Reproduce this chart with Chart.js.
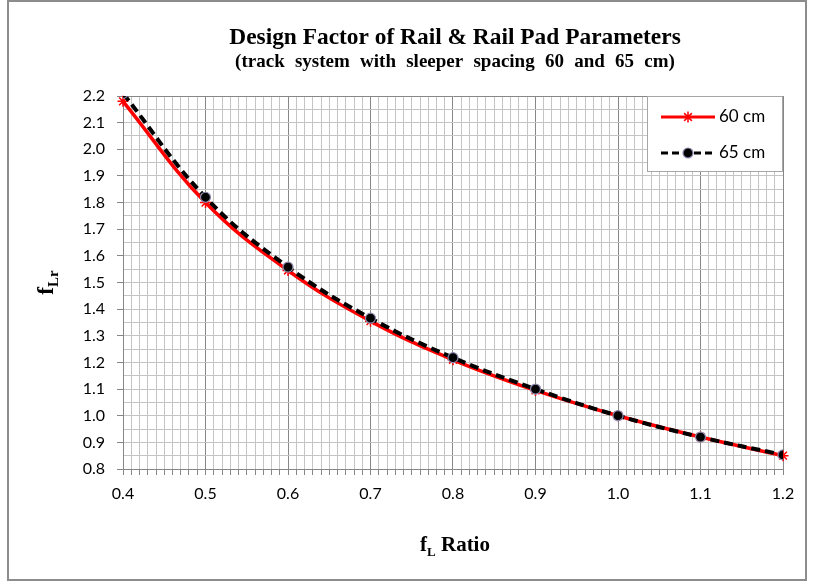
<!DOCTYPE html>
<html>
<head>
<meta charset="utf-8">
<title>Design Factor of Rail & Rail Pad Parameters</title>
<script src="https://cdn.jsdelivr.net/npm/chart.js@4/dist/chart.umd.min.js"></script>
<style>
    html, body { margin: 0; padding: 0; background: #ffffff; }
    #wrap { width: 816px; height: 583px; }
</style>
</head>
<body>
<div id="wrap"><canvas id="designFactorChart" width="816" height="583"></canvas></div>
<script>
// f_L ratio (x axis)
const fLRatio = [0.4, 0.5, 0.6, 0.7, 0.8, 0.9, 1.0, 1.1, 1.2];
// design factor f_Lr, sleeper spacing 60 cm
const spacing60 = [2.18, 1.80, 1.545, 1.355, 1.21, 1.095, 1.00, 0.92, 0.85];
// design factor f_Lr, sleeper spacing 65 cm
const spacing65 = [2.21, 1.82, 1.558, 1.366, 1.218, 1.10, 1.00, 0.92, 0.853];
const seriesNames = ['60 cm', '65 cm'];
const titleLines = [
    'Design Factor of Rail & Rail Pad Parameters',
    '(track system with sleeper spacing 60 and 65 cm)'
];
const xRange = [0.4, 1.2];
const yRange = [0.8, 2.2];

const TICK_FONT = 'Lato';
const SERIF = '"Liberation Serif", "DejaVu Serif", serif';
const MAJOR_GRID = '#878787';
const MINOR_GRID = '#c4c4c4';

// true for multiples of 0.1
function isMajor(v) {
    return Math.abs(v * 10 - Math.round(v * 10)) < 1e-6;
}

// draws text pieces one after another, each with its own font and baseline shift
function drawRuns(ctx, runs, cx, y) {
    let total = 0;
    runs.forEach(r => { ctx.font = r.font; total += ctx.measureText(r.text).width; });
    let x = cx - total / 2;
    ctx.textAlign = 'left';
    ctx.textBaseline = 'alphabetic';
    runs.forEach(r => {
        ctx.font = r.font;
        ctx.fillText(r.text, x, y + (r.dy || 0));
        x += ctx.measureText(r.text).width;
    });
}

function drawStar(ctx, x, y, r) {
    ctx.beginPath();
    ctx.moveTo(x - r * 0.7, y - r * 0.7); ctx.lineTo(x + r * 0.7, y + r * 0.7);
    ctx.moveTo(x + r * 0.7, y - r * 0.7); ctx.lineTo(x - r * 0.7, y + r * 0.7);
    ctx.moveTo(x, y - r); ctx.lineTo(x, y + r);
    ctx.stroke();
}

// frame, titles, axis titles and the boxed legend
const decorations = {
    id: 'decorations',
    beforeDraw(chart) {
        const ctx = chart.ctx;
        ctx.save();
        ctx.fillStyle = '#ffffff';
        ctx.fillRect(0, 0, chart.width, chart.height);
        ctx.strokeStyle = '#8c8c8c';
        ctx.lineWidth = 2;
        ctx.strokeRect(8, 1, 798, 579);
        ctx.restore();
    },
    afterDraw(chart) {
        const ctx = chart.ctx;
        const area = chart.chartArea;
        const cx = (area.left + area.right) / 2 + 2;
        ctx.save();
        ctx.fillStyle = '#000000';

        // chart title
        ctx.textAlign = 'center';
        ctx.textBaseline = 'alphabetic';
        ctx.font = 'bold 23.4px ' + SERIF;
        ctx.fillText(titleLines[0], cx, 44);
        ctx.font = 'bold 19px ' + SERIF;
        ctx.wordSpacing = '5.5px';
        ctx.fillText(titleLines[1], cx, 67);
        ctx.wordSpacing = '0px';

        // x axis title: f_L Ratio
        drawRuns(ctx, [
            { text: 'f', font: 'bold 21px ' + SERIF },
            { text: 'L', font: 'bold 13px ' + SERIF, dy: 5 },
            { text: ' Ratio', font: 'bold 21px ' + SERIF }
        ], cx, 551);

        // y axis title: f_Lr
        ctx.translate(53, (area.top + area.bottom) / 2);
        ctx.rotate(-Math.PI / 2);
        drawRuns(ctx, [
            { text: 'f', font: 'bold 23px ' + SERIF },
            { text: 'Lr', font: 'bold 15px ' + SERIF, dy: 5 }
        ], 0, 0);
        ctx.restore();

        // legend
        ctx.save();
        const box = { x: 647, y: area.top, w: area.right - 647, h: 76 };
        ctx.fillStyle = '#ffffff';
        ctx.fillRect(box.x, box.y, box.w, box.h);
        ctx.strokeStyle = '#a6a6a6';
        ctx.lineWidth = 1;
        ctx.strokeRect(box.x + 0.5, box.y + 0.5, box.w - 1, box.h - 1);

        const rowY = [box.y + 21, box.y + 57];
        // 60 cm row
        ctx.strokeStyle = '#ff0000';
        ctx.lineWidth = 3;
        ctx.beginPath();
        ctx.moveTo(661, rowY[0]); ctx.lineTo(715, rowY[0]);
        ctx.stroke();
        ctx.lineWidth = 1.5;
        drawStar(ctx, 688, rowY[0], 5.5);
        // 65 cm row
        ctx.strokeStyle = '#000000';
        ctx.lineWidth = 3;
        ctx.setLineDash([7, 4]);
        ctx.beginPath();
        ctx.moveTo(661, rowY[1]); ctx.lineTo(714, rowY[1]);
        ctx.stroke();
        ctx.setLineDash([]);
        ctx.beginPath();
        ctx.arc(688, rowY[1], 5, 0, Math.PI * 2);
        ctx.fillStyle = '#000000';
        ctx.fill();
        ctx.strokeStyle = '#8f8aaf';
        ctx.lineWidth = 1.2;
        ctx.stroke();

        ctx.fillStyle = '#000000';
        ctx.font = '17px ' + TICK_FONT;
        ctx.textAlign = 'left';
        ctx.textBaseline = 'middle';
        ctx.fillText(seriesNames[0], 719, rowY[0]);
        ctx.fillText(seriesNames[1], 719, rowY[1]);
        ctx.restore();
    }
};

const toPoints = ys => fLRatio.map((x, i) => ({ x: x, y: ys[i] }));

new Chart(document.getElementById('designFactorChart').getContext('2d'), {
    type: 'line',
    data: {
        datasets: [
            {
                label: seriesNames[0],
                data: toPoints(spacing60),
                borderColor: '#ff0000',
                borderWidth: 3.5,
                pointStyle: 'star',
                pointRadius: 5.5,
                pointBorderColor: '#ff0000',
                pointBackgroundColor: '#ff0000',
                pointBorderWidth: 1.5,
                tension: 0.4,
                fill: false,
                clip: false,
                order: 1
            },
            {
                label: seriesNames[1],
                data: toPoints(spacing65),
                borderColor: '#000000',
                borderWidth: 4,
                borderDash: [9, 5],
                pointStyle: 'circle',
                pointRadius: 5,
                pointBackgroundColor: '#000000',
                pointBorderColor: '#8f8aaf',
                pointBorderWidth: 1.2,
                tension: 0.4,
                fill: false,
                clip: 0,
                order: 0
            }
        ]
    },
    options: {
        responsive: false,
        animation: false,
        events: [],
        layout: { padding: { top: 96, right: 33, left: 0, bottom: 0 } },
        plugins: {
            legend: { display: false },
            title: { display: false },
            tooltip: { enabled: false }
        },
        scales: {
            x: {
                type: 'linear',
                min: xRange[0],
                max: xRange[1],
                afterFit(scale) { scale.height = 114; },
                border: { color: MAJOR_GRID, width: 1 },
                grid: {
                    color: c => isMajor(c.tick.value) ? MAJOR_GRID : MINOR_GRID,
                    lineWidth: 1,
                    tickLength: 6,
                    tickColor: MAJOR_GRID
                },
                ticks: {
                    stepSize: 0.01,
                    maxTicksLimit: 200,
                    autoSkip: false,
                    maxRotation: 0,
                    minRotation: 0,
                    padding: 9,
                    color: '#000000',
                    font: { family: TICK_FONT, size: 16 },
                    callback: v => isMajor(v) ? v.toFixed(1) : ''
                }
            },
            y: {
                type: 'linear',
                min: yRange[0],
                max: yRange[1],
                afterFit(scale) { scale.width = 123; },
                border: { color: MAJOR_GRID, width: 1 },
                grid: {
                    color: c => c.tick.value >= yRange[1] - 1e-9 ? MAJOR_GRID : MINOR_GRID,
                    lineWidth: 1,
                    tickLength: 6,
                    tickColor: c => isMajor(c.tick.value) ? MAJOR_GRID : 'rgba(0,0,0,0)'
                },
                ticks: {
                    stepSize: 0.05,
                    maxTicksLimit: 200,
                    autoSkip: false,
                    padding: 12,
                    color: '#000000',
                    font: { family: TICK_FONT, size: 16 },
                    callback: v => isMajor(v) ? v.toFixed(1) : ''
                }
            }
        }
    },
    plugins: [decorations]
});
</script>
</body>
</html>
